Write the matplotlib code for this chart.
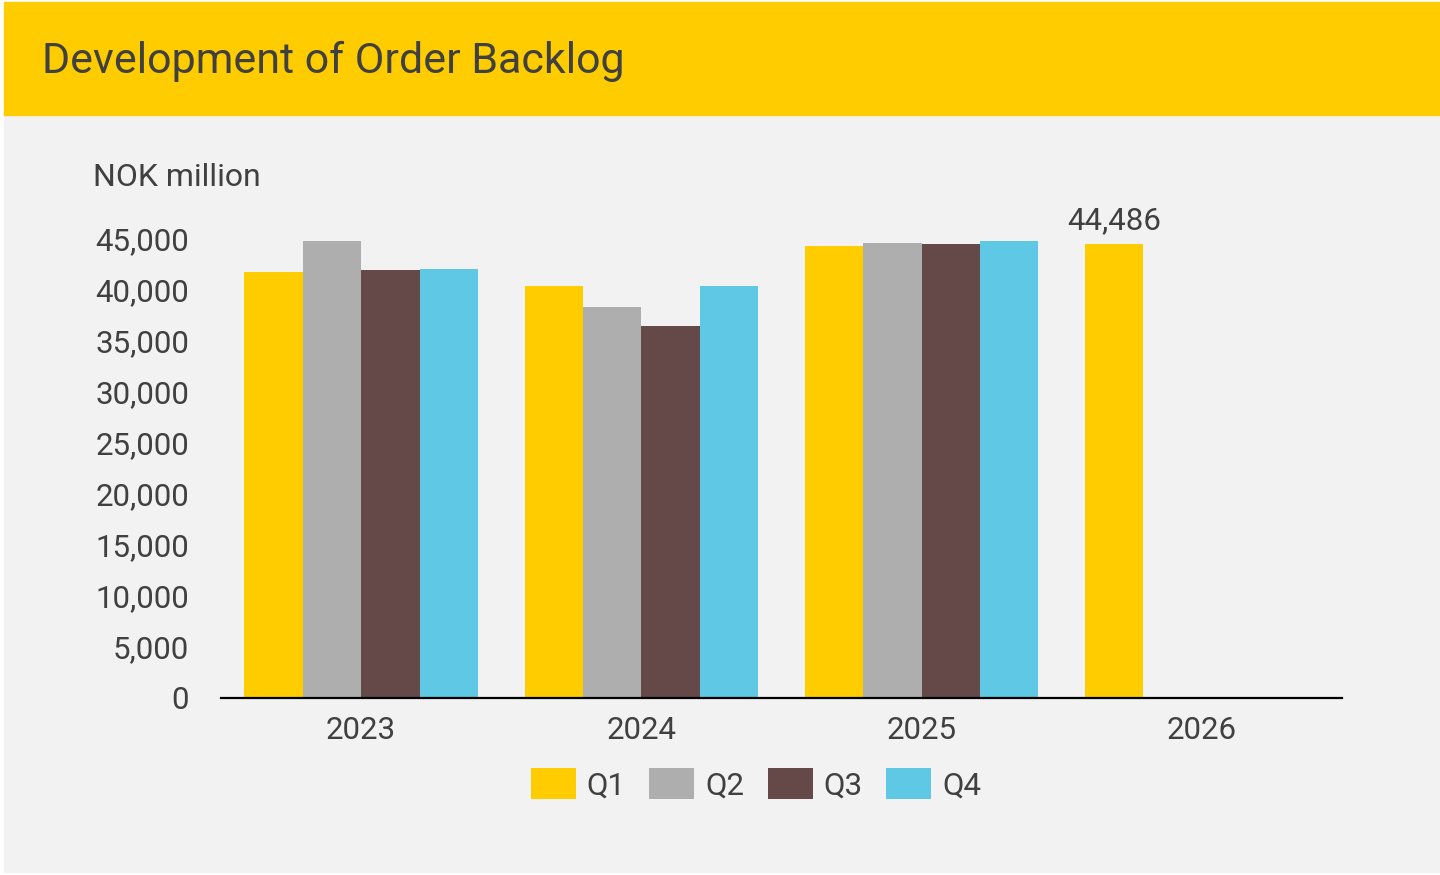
"""
Development of order backlog, grouped bars per quarter (NOK million).
"""
import numpy as np
import matplotlib
matplotlib.use("Agg")
import matplotlib.pyplot as plt
from matplotlib.patches import Rectangle

# Chart data
years = ["2023", "2024", "2025", "2026"]
quarters = ["Q1", "Q2", "Q3", "Q4"]
q1 = [41700, 40340, 44260, 44486]
q2 = [44750, 38260, 44530, None]
q3 = [41880, 36450, 44430, None]
q4 = [42010, 40370, 44720, None]
colors = ["#FFCC00", "#AEAEAE", "#654848", "#5EC8E5"]

TEXT = "#404040"
plt.rcParams["font.family"] = ["Roboto", "DejaVu Sans"]

W, H = 1440, 875
fig = plt.figure(figsize=(W / 100, H / 100), dpi=100, facecolor="white")

# Background panels (header band and grey body), kept behind the axes
fig.patches.append(Rectangle((4 / W, 1 - 872 / H), 1 - 4 / W, (872 - 116) / H,
                             transform=fig.transFigure, color="#F2F2F2", zorder=-10))
fig.patches.append(Rectangle((4 / W, 1 - 115 / H), 1 - 4 / W, (115 - 2) / H,
                             transform=fig.transFigure, color="#FFCC00", zorder=-10))
fig.text(42 / W, 1 - 61 / H, "Development of Order Backlog", fontsize=31,
         color=TEXT, va="center", ha="left")
fig.text(93 / W, 1 - 177 / H, "NOK million", fontsize=23, color=TEXT,
         va="center", ha="left")

ax = fig.add_axes([221 / W, 1 - 697.7 / H, (1342 - 221) / W, (697.7 - 238.5) / H])
ax.set_facecolor("none")

x = np.arange(len(years))
width = 0.2083
series = [q1, q2, q3, q4]
for i, (vals, name, col) in enumerate(zip(series, quarters, colors)):
    xs = [xx for xx, v in zip(x, vals) if v is not None]
    ys = [v for v in vals if v is not None]
    ax.bar(np.array(xs) + (i - 1.5) * width, ys, width, color=col, label=name,
           linewidth=0, clip_on=False)

# Label on the latest value
ax.annotate(f"{q1[-1]:,}", (x[-1] - 1.5 * width, q1[-1]), xytext=(0, 6),
            textcoords="offset points", ha="center", va="bottom",
            fontsize=22.5, color=TEXT)

ax.set_xlim(-0.5, 3.5)
ax.set_ylim(0, 45000)
ax.set_yticks(np.arange(0, 45001, 5000))
ax.set_yticklabels([f"{v:,}" for v in range(0, 45001, 5000)])
ax.set_xticks(x)
ax.set_xticklabels(years)
ax.tick_params(axis="both", length=0, labelsize=22.5, labelcolor=TEXT)
ax.tick_params(axis="y", pad=23)
ax.tick_params(axis="x", pad=13.5)
for side in ["top", "right", "left"]:
    ax.spines[side].set_visible(False)
ax.spines["bottom"].set_linewidth(1.6)
ax.spines["bottom"].set_color("black")

leg = fig.legend(loc="center", bbox_to_anchor=(756 / W, 1 - 784 / H), ncol=4,
                 frameon=False, fontsize=22.5, handlelength=1.44, handleheight=1.15,
                 handletextpad=0.35, columnspacing=0.75, borderpad=0)
for t in leg.get_texts():
    t.set_color(TEXT)

fig.savefig("out.png", dpi=100, facecolor=fig.get_facecolor())
